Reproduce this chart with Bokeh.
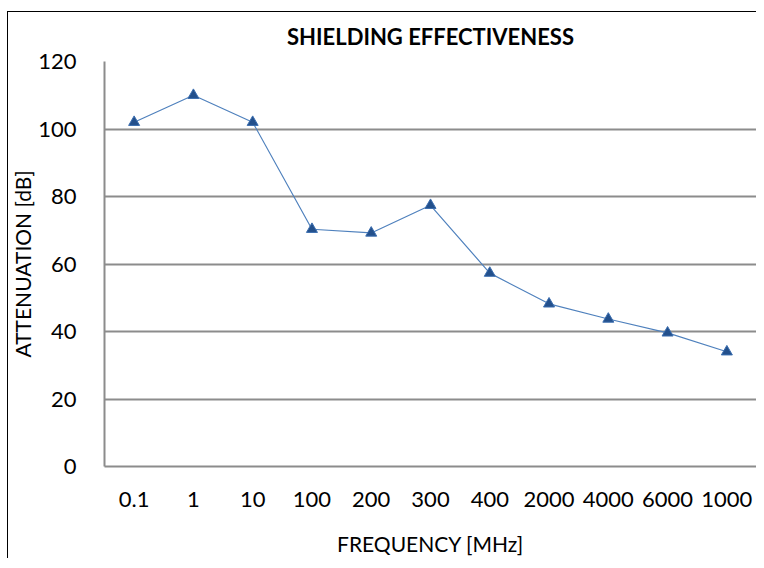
from bokeh.plotting import figure
from bokeh.models import FactorRange, Range1d, FixedTicker, Title
from bokeh.embed import file_html
from bokeh.resources import INLINE

frequencies = ["0.1", "1", "10", "100", "200", "300", "400", "2000", "4000", "6000", "1000"]
attenuation = [102, 110, 102, 70.3, 69.2, 77.4, 57.3, 48.2, 43.7, 39.6, 34.0]
y_ticks = [0, 20, 40, 60, 80, 100, 120]

FONT = "Lato"
GRID = "#8c8c8c"

p = figure(
    width=756, height=558,
    x_range=FactorRange(*frequencies, range_padding=0),
    y_range=Range1d(0, 120),
    output_backend="svg", toolbar_location=None,
    min_border_left=104, min_border_right=0, min_border_top=61, min_border_bottom=91,
)
p.title = Title(text="SHIELDING EFFECTIVENESS", align="center",
                text_font=FONT, text_font_size="22px", text_font_style="bold",
                text_color="#000000", standoff=24)
p.outline_line_color = None
p.border_fill_color = None
p.background_fill_color = "#ffffff"
p.styles = {
    "background-color": "#ffffff",
    "background-image": "linear-gradient(#000,#000), linear-gradient(#000,#000)",
    "background-position": "7px 11px, 7px 11px",
    "background-size": "1px 100%, 100% 1px",
    "background-repeat": "no-repeat",
}

p.line(frequencies, attenuation, line_color="#4F81BD", line_width=1.2)
p.scatter(frequencies, attenuation, marker="triangle", size=11,
          fill_color="#23508C", line_color="#3A6DAF", line_width=1)

# y axis
p.yaxis.ticker = FixedTicker(ticks=y_ticks)
p.yaxis.axis_label = "ATTENUATION [dB]"
p.yaxis.axis_label_text_font = FONT
p.yaxis.axis_label_text_font_size = "21px"
p.yaxis.axis_label_text_font_style = "normal"
p.yaxis.axis_label_text_color = "#000000"
p.yaxis.axis_label_standoff = 0
p.yaxis.major_label_text_font = FONT
p.yaxis.major_label_text_font_size = "22px"
p.yaxis.major_label_text_color = "#000000"
p.yaxis.major_label_standoff = 22
p.yaxis.major_tick_line_color = None
p.yaxis.minor_tick_line_color = None
p.yaxis.axis_line_color = GRID
p.yaxis.axis_line_width = 2

# x axis
p.xaxis.axis_label = "FREQUENCY [MHz]"
p.xaxis.axis_label_text_font = FONT
p.xaxis.axis_label_text_font_size = "21px"
p.xaxis.axis_label_text_font_style = "normal"
p.xaxis.axis_label_text_color = "#000000"
p.xaxis.axis_label_standoff = 21
p.xaxis.major_label_text_font = FONT
p.xaxis.major_label_text_font_size = "22px"
p.xaxis.major_label_text_color = "#000000"
p.xaxis.major_label_standoff = 19
p.xaxis.major_tick_line_color = None
p.xaxis.axis_line_color = GRID
p.xaxis.axis_line_width = 2

p.xgrid.grid_line_color = None
p.ygrid.grid_line_color = GRID
p.ygrid.grid_line_width = 2

open("out.html", "w").write(file_html(p, INLINE))
